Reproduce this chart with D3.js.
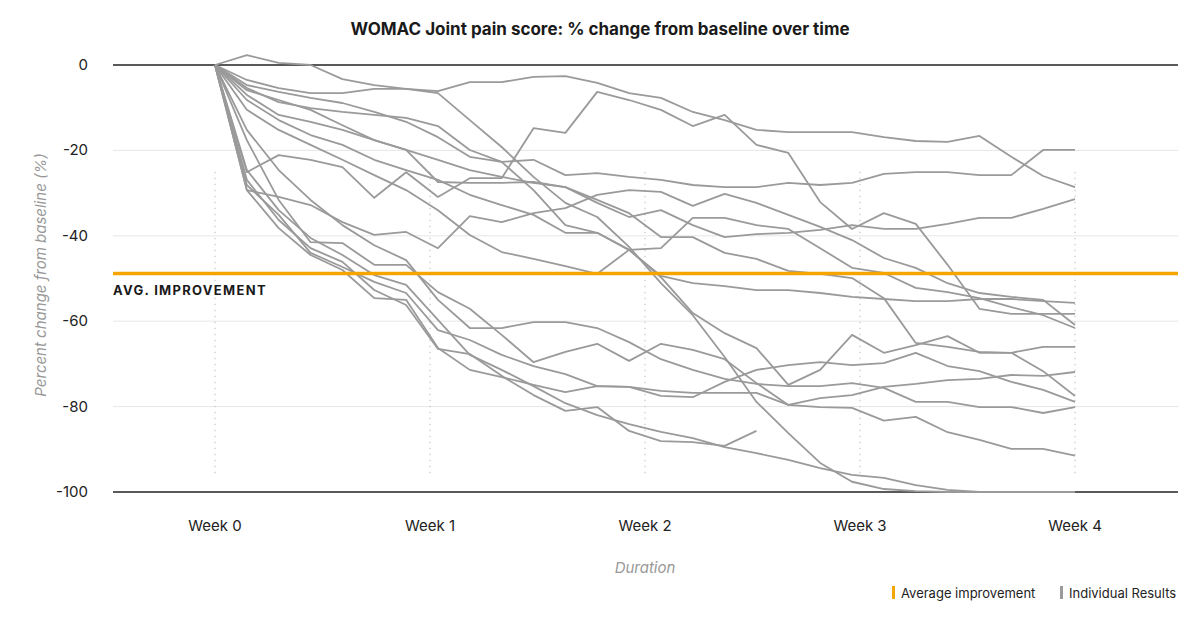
<!DOCTYPE html>
<html>
<head>
<meta charset="utf-8">
<script src="https://cdn.jsdelivr.net/npm/d3@7"></script>
<style>
  body { margin: 0; background: #fff; font-family: Inter, "Noto Sans", sans-serif; }
</style>
</head>
<body>
<svg id="chart" width="1200" height="619"></svg>
<script>
// weeks shown on the x axis
const weekLabels = ["Week 0", "Week 1", "Week 2", "Week 3", "Week 4"];
const yTicks = [0, -20, -40, -60, -80, -100];
const avgImprovement = -48.8;
const daysPerSeries = 28;

// individual results, % change from baseline per day
const seriesA = [0, 2.3, 0.5, 0, -3.3, -4.7, -5.6, -6.1, -4.0, -4.0, -2.8, -2.6, -4.2, -6.6, -7.7, -11.0, -12.9, -15.2, -15.7, -15.7, -15.7, -16.9, -17.8, -18.0, -16.6, -21.5, -26.0, -28.6];
const seriesB = [0, -25.1, -21.1, -22.2, -23.9, -31.1, -25.1, -30.9, -26.5, -26.5, -14.8, -15.9, -6.3, -8.2, -10.5, -14.3, -11.7, -18.7, -20.6, -32.1, -38.4, -34.7, -37.2, -46.8, -57.1, -58.3, -58.3, -58.3];
const seriesC = [0, -5.9, -8.2, -10.5, -14.1, -17.6, -19.9, -27.4, -27.6, -27.6, -27.4, -28.6, -32.3, -35.6, -34.0, -37.5, -40.3, -39.6, -39.3, -38.6, -37.5, -38.4, -38.4, -37.2, -35.8, -35.8, -33.7, -31.4];
const seriesD = [0, -4.7, -6.3, -7.7, -8.9, -11.0, -13.3, -16.9, -21.5, -22.7, -22.2, -25.8, -25.3, -26.2, -26.9, -28.1, -28.6, -28.6, -27.6, -28.1, -27.6, -25.5, -25.1, -25.1, -25.8, -25.8, -19.9, -19.9];
const seriesE = [0, -29.3, -30.9, -32.8, -36.8, -39.8, -39.1, -42.9, -35.4, -36.8, -34.7, -33.5, -30.4, -29.3, -29.7, -33.0, -30.2, -32.3, -35.1, -37.9, -41.0, -45.2, -47.5, -51.1, -53.4, -54.3, -55.0, -60.9];
const seriesF = [0, -8.2, -12.9, -16.4, -18.7, -22.2, -24.6, -26.9, -30.4, -32.8, -35.1, -39.3, -39.3, -43.3, -49.4, -51.1, -51.8, -52.7, -52.7, -53.4, -54.3, -54.8, -55.3, -55.3, -54.8, -54.8, -55.3, -55.7];
const seriesG = [0, -10.5, -15.2, -18.7, -22.2, -25.8, -29.3, -34.0, -39.8, -43.8, -45.4, -47.1, -48.9, -43.3, -42.9, -35.8, -35.8, -37.5, -38.4, -42.9, -47.5, -48.7, -52.2, -53.2, -54.6, -56.7, -58.6, -61.6];
const seriesK = [0, -7.0, -11.7, -13.3, -15.2, -17.6, -19.9, -22.2, -24.6, -26.2, -27.6, -28.6, -31.6, -34.7, -40.3, -40.3, -44.0, -45.4, -48.2, -48.9, -49.9, -54.6, -65.1, -66.0, -67.2, -67.4, -71.7, -77.5];
const seriesP = [0, -3.5, -5.4, -6.6, -6.6, -5.6, -5.6, -6.6, -12.9, -19.2, -26.2, -32.3, -35.6, -42.6, -51.1, -58.6, -68.4, -78.9, -86.2, -93.2, -97.6, -99.3, -99.8, -100, -100, -100, -100, -100];
const seriesZ = [0, -5.4, -8.7, -10.1, -11.0, -11.7, -12.4, -14.3, -19.9, -22.7, -29.3, -37.5, -39.3, -43.3, -49.7, -58.1, -62.8, -66.3, -74.9, -71.4, -63.2, -67.4, -65.6, -63.5, -67.4, -67.4, -66.0, -66.0];
const seriesW1 = [0, -17.6, -31.6, -41.5, -41.7, -46.8, -46.8, -53.2, -57.1, -63.2, -69.6, -67.2, -65.3, -69.3, -65.3, -66.7, -68.9, -74.5, -79.6, -80.1, -80.3, -83.3, -82.4, -86.0, -87.8, -89.9, -89.9, -91.5];
const seriesW2 = [0, -15.2, -24.6, -31.6, -37.5, -42.2, -45.7, -55.0, -61.6, -61.6, -60.2, -60.2, -61.6, -64.9, -68.9, -71.4, -73.5, -74.7, -75.2, -75.2, -74.5, -75.6, -78.9, -78.9, -80.1, -80.1, -81.5, -80.1];
const seriesW3 = [0, -28.1, -35.1, -44.0, -47.3, -50.8, -53.4, -62.1, -64.4, -67.9, -70.5, -72.4, -75.2, -75.4, -77.5, -77.8, -74.2, -71.4, -70.3, -69.6, -70.3, -69.8, -67.4, -70.5, -71.7, -74.2, -76.1, -78.9];
const seriesW4 = [0, -29.3, -38.2, -44.5, -48.0, -54.6, -55.0, -66.3, -71.4, -73.1, -74.9, -76.6, -75.2, -75.4, -76.3, -76.8, -76.8, -76.8, -79.6, -78.0, -77.3, -75.4, -74.7, -73.8, -73.5, -72.6, -72.8, -71.9];
const seriesR = [0, -26.9, -36.3, -42.9, -46.1, -52.7, -56.2, -66.5, -67.7, -72.8, -77.3, -81.0, -80.1, -85.7, -88.1, -88.3, -89.2, -85.7, null, null, null, null, null, null, null, null, null, null];
const seriesW5 = [0, -24.6, -34.0, -40.5, -44.5, -49.2, -51.5, -59.7, -67.9, -71.4, -75.2, -79.2, -82.0, -84.1, -85.9, -87.4, -89.5, -90.9, -92.5, -94.4, -96.0, -96.7, -98.4, -99.5, -100, -100, -100, -100];

const allSeries = [seriesA, seriesB, seriesC, seriesD, seriesE, seriesF, seriesG, seriesK,
  seriesP, seriesZ, seriesW1, seriesW2, seriesW3, seriesW4, seriesR, seriesW5];

const svg = d3.select("#chart");

const x = d3.scaleLinear().domain([0, 4]).range([215, 1075]);
const y = d3.scaleLinear().domain([-100, 0]).range([492, 65]);
const dayToWeek = i => i * 4 / (daysPerSeries - 1);

// title
svg.append("text")
  .attr("x", 600).attr("y", 35)
  .attr("text-anchor", "middle")
  .style("font-size", "17px").style("font-weight", 700).style("fill", "#1a1a1a")
  .text("WOMAC Joint pain score: % change from baseline over time");

// horizontal grid
svg.append("g").selectAll("line")
  .data(yTicks)
  .join("line")
  .attr("x1", 113).attr("x2", 1178)
  .attr("y1", d => y(d)).attr("y2", d => y(d))
  .attr("stroke", d => (d === 0 || d === -100) ? "#222" : "#e6e6e6")
  .attr("stroke-width", d => (d === 0 || d === -100) ? 1.3 : 1);

// y labels
svg.append("g").selectAll("text")
  .data(yTicks)
  .join("text")
  .attr("x", 88).attr("y", d => y(d) + 5)
  .attr("text-anchor", "end")
  .style("font-size", "15px").style("fill", "#222")
  .text(d => d);

// week dotted lines
svg.append("g").selectAll("line")
  .data(weekLabels)
  .join("line")
  .attr("x1", (d, i) => x(i)).attr("x2", (d, i) => x(i))
  .attr("y1", y(-25)).attr("y2", y(-96))
  .attr("stroke", "#c8c8c8").attr("stroke-width", 1.2)
  .attr("stroke-dasharray", "1.5,4.5");

// x labels
svg.append("g").selectAll("text")
  .data(weekLabels)
  .join("text")
  .attr("x", (d, i) => x(i)).attr("y", 531)
  .attr("text-anchor", "middle")
  .style("font-size", "15px").style("fill", "#222")
  .text(d => d);

// individual lines
const line = d3.line()
  .defined(d => d != null)
  .x((d, i) => x(dayToWeek(i)))
  .y(d => y(d));

svg.append("g").selectAll("path")
  .data(allSeries)
  .join("path")
  .attr("d", d => line(d))
  .attr("fill", "none")
  .attr("stroke", "#9a9a9a")
  .attr("stroke-width", 1.8)
  .attr("stroke-linejoin", "round");

// average line
svg.append("line")
  .attr("x1", 113).attr("x2", 1178)
  .attr("y1", y(avgImprovement)).attr("y2", y(avgImprovement))
  .attr("stroke", "#f5a500").attr("stroke-width", 3.5);

svg.append("text")
  .attr("x", 113).attr("y", y(avgImprovement) + 22)
  .style("font-size", "13px").style("font-weight", 700)
  .style("letter-spacing", "1.3px").style("fill", "#1a1a1a")
  .text("AVG. IMPROVEMENT");

// axis titles
svg.append("text")
  .attr("transform", "translate(46,275) rotate(-90)")
  .attr("text-anchor", "middle")
  .style("font-size", "15px").style("font-style", "italic").style("fill", "#999")
  .text("Percent change from baseline (%)");

svg.append("text")
  .attr("x", 645).attr("y", 573)
  .attr("text-anchor", "middle")
  .style("font-size", "15px").style("font-style", "italic").style("fill", "#999")
  .text("Duration");

// legend
const legendItems = [
  { label: "Average improvement", color: "#f5a500", x: 892 },
  { label: "Individual Results", color: "#9a9a9a", x: 1060 }
];
const legend = svg.append("g").selectAll("g")
  .data(legendItems)
  .join("g")
  .attr("transform", d => `translate(${d.x},586)`);
legend.append("rect")
  .attr("width", 3).attr("height", 13)
  .attr("fill", d => d.color);
legend.append("text")
  .attr("x", 9).attr("y", 11.5)
  .style("font-size", "13px").style("fill", "#222")
  .text(d => d.label);
</script>
</body>
</html>
